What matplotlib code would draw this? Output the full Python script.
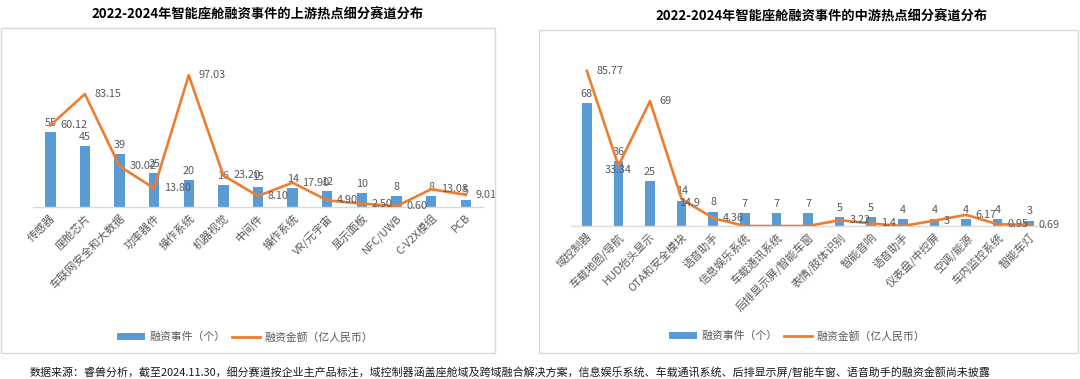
import matplotlib
matplotlib.use("Agg")
import matplotlib.pyplot as plt
from matplotlib.patches import Rectangle, Patch
from matplotlib.lines import Line2D

plt.rcParams['font.family'] = ['Noto Sans CJK SC', 'DejaVu Sans']

# ---------------- data ----------------
up_categories = ["传感器", "座舱芯片", "车联网安全和大数据", "功率器件", "操作系统", "机器视觉",
                 "中间件", "操作系统", "VR/元宇宙", "显示面板", "NFC/UWB", "C-V2X模组", "PCB"]
up_events = [55, 45, 39, 25, 20, 16, 15, 14, 12, 10, 8, 8, 5]
up_amounts = [60.12, 83.15, 30.02, 13.80, 97.03, 23.20, 8.10, 17.90, 4.90, 2.50, 0.60, 13.08, 9.01]
up_amount_labels = ["60.12", "83.15", "30.02", "13.80", "97.03", "23.20", "8.10", "17.90",
                    "4.90", "2.50", "0.60", "13.08", "9.01"]

mid_categories = ["域控制器", "车载地图/导航", "HUD抬头显示", "OTA和安全模块", "语音助手",
                  "信息娱乐系统", "车载通讯系统", "后排显示屏/智能车窗", "表情/肢体识别",
                  "智能音响", "语音助手", "仪表盘/中控屏", "空调/能源", "车内监控系统", "智能车灯"]
mid_events = [68, 36, 25, 14, 8, 7, 7, 7, 5, 5, 4, 4, 4, 4, 3]
mid_amounts = [85.77, 33.34, 69, 14.9, 4.36, 0, 0, 0, 3.22, 1.4, 0, 3, 6.17, 0.95, 0.69]
mid_amount_labels = ["85.77", "33.34", "69", "14.9", "4.36", "", "", "", "3.22", "1.4", "",
                     "3", "6.17", "0.95", "0.69"]

title_up = "2022-2024年智能座舱融资事件的上游热点细分赛道分布"
title_mid = "2022-2024年智能座舱融资事件的中游热点细分赛道分布"
legend_bar = "融资事件（个）"
legend_line = "融资金额（亿人民币）"
footnote = ("数据来源：睿兽分析，截至2024.11.30，细分赛道按企业主产品标注，域控制器涵盖座舱域及跨域融合解决方案，"
            "信息娱乐系统、车载通讯系统、后排显示屏/智能车窗、语音助手的融资金额尚未披露")

BLUE = "#5B9BD5"
ORANGE = "#ED7D31"
GRAY_TXT = "#595959"
AXIS_GRAY = "#D9D9D9"

W, H = 1080, 379
fig = plt.figure(figsize=(W / 100, H / 100), dpi=100)


def px_axes(x0, x1, y_top, y_bottom):
    return fig.add_axes([x0 / W, (H - y_bottom) / H, (x1 - x0) / W, (y_bottom - y_top) / H])


def draw_panel(ax, cats, events, amounts, amount_labels, ymax, special=None):
    special = special or {}
    x = list(range(len(cats)))
    ax.bar(x, events, width=0.3, color=BLUE, zorder=2)
    ax2 = ax.twinx()
    ax2.plot(x, amounts, color=ORANGE, lw=1.9, zorder=3, solid_joinstyle='round')
    for a in (ax, ax2):
        a.set_ylim(0, ymax)
        a.set_xlim(-0.5, len(cats) - 0.5)
        for s in a.spines.values():
            s.set_visible(False)
        a.set_yticks([])
        a.patch.set_visible(False)
    ax.spines['bottom'].set_visible(True)
    ax.spines['bottom'].set_color(AXIS_GRAY)
    ax.spines['bottom'].set_linewidth(1.0)
    ax.set_xticks(x)
    ax.set_xticklabels(cats, rotation=45, ha='right', va='top', rotation_mode='anchor',
                       fontsize=8, color=GRAY_TXT)
    ax.tick_params(axis='x', length=0, pad=4)
    for xi, v in zip(x, events):
        ax.annotate(str(v), (xi, v), xytext=(0, 3), textcoords='offset points',
                    ha='center', va='bottom', fontsize=7.8, color=GRAY_TXT, zorder=4)
    for i, (xi, v, lab) in enumerate(zip(x, amounts, amount_labels)):
        if not lab:
            continue
        off, ha = special.get(i, ((7, 0), 'left'))
        ax2.annotate(lab, (xi, v), xytext=off, textcoords='offset points',
                     ha=ha, va='center', fontsize=7.8, color=GRAY_TXT, zorder=4)
    return ax2


# frames
fig.patches.append(Rectangle((1 / W, (H - 353) / H), 494 / W, (353 - 28) / H,
                             transform=fig.transFigure, fill=False, ec="#D9D9D9", lw=1.0))
fig.patches.append(Rectangle((539 / W, (H - 353) / H), 539 / W, (353 - 30) / H,
                             transform=fig.transFigure, fill=False, ec="#D9D9D9", lw=1.0))

ax_l = px_axes(33, 483, 44, 207)
draw_panel(ax_l, up_categories, up_events, up_amounts, up_amount_labels, 120)

ax_r = px_axes(571, 1045, 45, 226)
draw_panel(ax_r, mid_categories, mid_events, mid_amounts, mid_amount_labels, 100,
           special={1: ((0, -3), 'center'), 3: ((-2, -3), 'left')})

fig.text(258 / W, 1 - 15 / H, title_up, ha='center', va='center', fontsize=9.5,
         fontweight='bold', color='black')
fig.text(822 / W, 1 - 17 / H, title_mid, ha='center', va='center', fontsize=9.5,
         fontweight='bold', color='black')

handles = [Patch(facecolor=BLUE, edgecolor='none', label=legend_bar),
           Line2D([0], [0], color=ORANGE, lw=2.0, label=legend_line)]
for cx, cy in ((245, 337), (797, 336)):
    fig.legend(handles=handles, loc='center', bbox_to_anchor=(cx / W, 1 - cy / H),
               ncol=2, frameon=False, fontsize=7.8, labelcolor=GRAY_TXT,
               handlelength=2.6, handleheight=0.55, columnspacing=0.6, handletextpad=0.4)

fig.text(30 / W, 1 - 373 / H, footnote, ha='left', va='center', fontsize=7.9, color='#1a1a1a')

fig.savefig("out.png", dpi=100)
